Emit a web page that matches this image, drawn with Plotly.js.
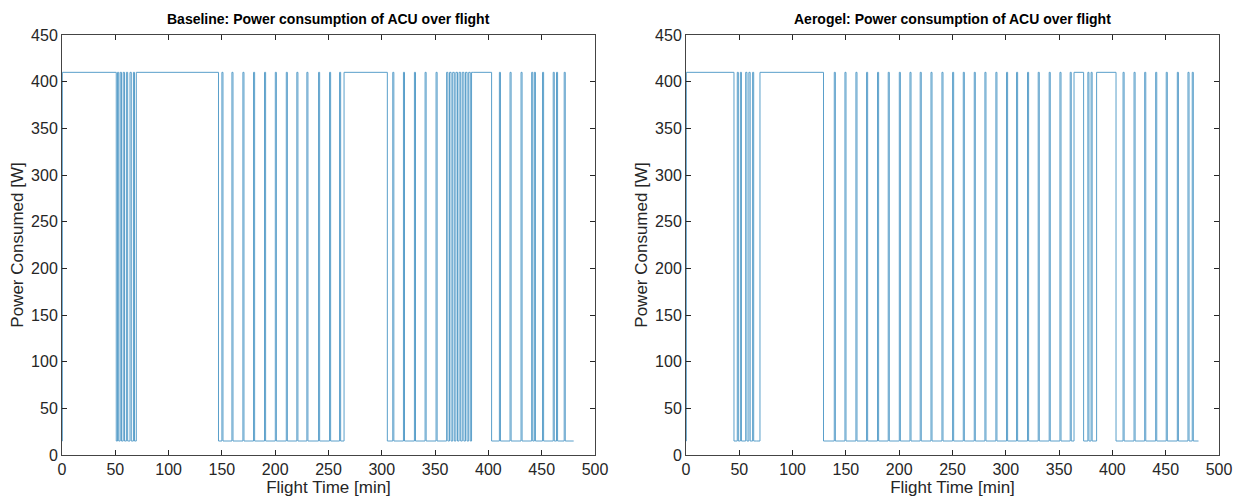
<!DOCTYPE html>
<html>
<head>
<meta charset="utf-8">
<script src="https://cdn.plot.ly/plotly-3.0.1.min.js"></script>
<style>
  html, body { margin: 0; padding: 0; background: #fff; }
  #chart { width: 1239px; height: 502px; }
</style>
</head>
<body>
<div id="chart"></div>
<script>
// ACU power draw: step data, each time [min] is where the power [W] switches to the listed value
const baselineTime = [0, 0.3,
  50.9, 52.1, 53.2, 54.6, 55.8, 57.4, 58.6, 60.4, 61.6, 63.8, 65.0, 67.0, 68.0, 69.7,
  146.8,
  150.0, 151.0, 159.4, 160.4, 169.7, 170.7, 179.7, 180.7, 190.0, 191.0, 200.1, 201.1,
  210.4, 211.4, 220.3, 221.3, 229.7, 230.7, 240.7, 241.7, 251.0, 252.0, 260.4, 261.4,
  264.6, 305.2,
  310.3, 311.3, 320.3, 321.3, 330.6, 331.6, 340.6, 341.6, 350.9, 351.9,
  360.8, 362.0, 363.5, 365.0, 366.5, 368.0, 369.5, 371.0, 372.5, 374.0, 375.5, 377.0,
  378.5, 380.0, 381.5, 383.0, 384.2, 385.7,
  403.0,
  410.3, 411.3, 420.3, 421.3, 430.6, 431.6, 440.6, 441.6, 443.1, 444.1, 450.8, 451.8,
  460.8, 461.8, 463.9, 464.9, 471.1, 472.1, 480.0];
const baselinePower = [15, 410,
  15, 410, 15, 410, 15, 410, 15, 410, 15, 410, 15, 410, 15, 410,
  15,
  410, 15, 410, 15, 410, 15, 410, 15, 410, 15, 410, 15,
  410, 15, 410, 15, 410, 15, 410, 15, 410, 15, 410, 15,
  410, 15,
  410, 15, 410, 15, 410, 15, 410, 15, 410, 15,
  410, 15, 410, 15, 410, 15, 410, 15, 410, 15, 410, 15,
  410, 15, 410, 15, 410, 410,
  15,
  410, 15, 410, 15, 410, 15, 410, 15, 410, 15, 410, 15,
  410, 15, 410, 15, 410, 15, 15];

const aerogelTime = [0, 0.3,
  45.0, 48.1, 49.1, 51.0, 52.0, 56.0, 57.2, 59.0, 60.2, 62.5, 63.5, 66.3, 69.4,
  129.0,
  139.1, 140.1, 149.1, 150.1, 159.4, 160.4, 169.4, 170.4, 179.7, 180.7, 189.7, 190.7,
  200.1, 201.1, 210.1, 211.1, 219.7, 220.7, 229.8, 230.8, 240.1, 241.1, 250.1, 251.1,
  260.1, 261.1, 270.4, 271.4, 280.4, 281.4, 290.7, 291.7, 300.7, 301.7, 310.1, 311.1,
  320.4, 321.4, 330.4, 331.4, 340.7, 341.7, 350.8, 351.8, 360.4, 361.4,
  364.0, 373.0, 377.0, 378.0, 380.0, 381.0, 385.2, 403.4,
  410.0, 411.0, 420.3, 421.3, 430.3, 431.3, 440.6, 441.6, 450.5, 451.5, 460.9, 461.9,
  470.9, 471.9, 474.9, 475.9, 480.8];
const aerogelPower = [15, 410,
  15, 410, 15, 410, 15, 410, 15, 410, 15, 410, 15, 15, 410,
  15,
  410, 15, 410, 15, 410, 15, 410, 15, 410, 15, 410, 15,
  410, 15, 410, 15, 410, 15, 410, 15, 410, 15, 410, 15,
  410, 15, 410, 15, 410, 15, 410, 15, 410, 15, 410, 15,
  410, 15, 410, 15, 410, 15, 410, 15, 410, 15,
  410, 15, 410, 15, 410, 15, 410, 15,
  410, 15, 410, 15, 410, 15, 410, 15, 410, 15, 410, 15,
  410, 15, 410, 15, 15];

const xTicks = [0, 50, 100, 150, 200, 250, 300, 350, 400, 450, 500];
const yTicks = [0, 50, 100, 150, 200, 250, 300, 350, 400, 450];
const panelTitles = ['Baseline: Power consumption of ACU over flight',
                     'Aerogel: Power consumption of ACU over flight'];
const xLabel = 'Flight Time [min]';
const yLabel = 'Power Consumed [W]';

const lineStyle = { color: '#5a9fca', width: 1, shape: 'hv' };
const font = 'Liberation Sans, Arial, Helvetica, sans-serif';
const ink = '#262626';

const traces = [
  { x: baselineTime, y: baselinePower, type: 'scatter', mode: 'lines',
    line: lineStyle, xaxis: 'x', yaxis: 'y', hoverinfo: 'x+y' },
  { x: aerogelTime, y: aerogelPower, type: 'scatter', mode: 'lines',
    line: lineStyle, xaxis: 'x2', yaxis: 'y2', hoverinfo: 'x+y' }
];

function xAxis(domain, anchor) {
  return {
    domain: domain, anchor: anchor, range: [0, 500],
    tickmode: 'array', tickvals: xTicks, ticktext: xTicks.map(String),
    ticks: 'inside', ticklen: 5, tickcolor: ink, tickwidth: 1,
    showline: true, linecolor: '#444', linewidth: 1, mirror: 'ticks',
    showgrid: false, zeroline: false,
    tickfont: { family: font, size: 16, color: ink },
    title: { text: xLabel, font: { family: font, size: 17, color: ink }, standoff: 3 }
  };
}
function yAxis(domain, anchor) {
  return {
    domain: domain, anchor: anchor, range: [0, 450],
    tickmode: 'array', tickvals: yTicks, ticktext: yTicks.map(String),
    ticks: 'inside', ticklen: 5, tickcolor: ink, tickwidth: 1,
    showline: true, linecolor: '#444', linewidth: 1, mirror: 'ticks',
    showgrid: false, zeroline: false,
    tickfont: { family: font, size: 16, color: ink },
    title: { text: yLabel, font: { family: font, size: 17, color: ink }, standoff: 3 }
  };
}

const W = 1239, H = 502;
const yDom = [(H - 455) / H, (H - 35) / H];
const layout = {
  width: W, height: H,
  margin: { l: 0, r: 0, t: 0, b: 0 },
  paper_bgcolor: '#ffffff', plot_bgcolor: '#ffffff',
  showlegend: false,
  xaxis: xAxis([62 / W, 595 / W], 'y'),
  yaxis: yAxis(yDom, 'x'),
  xaxis2: xAxis([686 / W, 1219 / W], 'y2'),
  yaxis2: yAxis(yDom, 'x2'),
  annotations: [
    { text: '<b>' + panelTitles[0] + '</b>', xref: 'paper', yref: 'paper',
      x: (62 + 595) / 2 / W, y: (H - 19) / H, xanchor: 'center', yanchor: 'middle',
      showarrow: false, font: { family: font, size: 14, color: '#000' } },
    { text: '<b>' + panelTitles[1] + '</b>', xref: 'paper', yref: 'paper',
      x: (686 + 1219) / 2 / W, y: (H - 19) / H, xanchor: 'center', yanchor: 'middle',
      showarrow: false, font: { family: font, size: 14, color: '#000' } }
  ]
};

Plotly.newPlot('chart', traces, layout, { displayModeBar: false, staticPlot: true });
</script>
</body>
</html>
